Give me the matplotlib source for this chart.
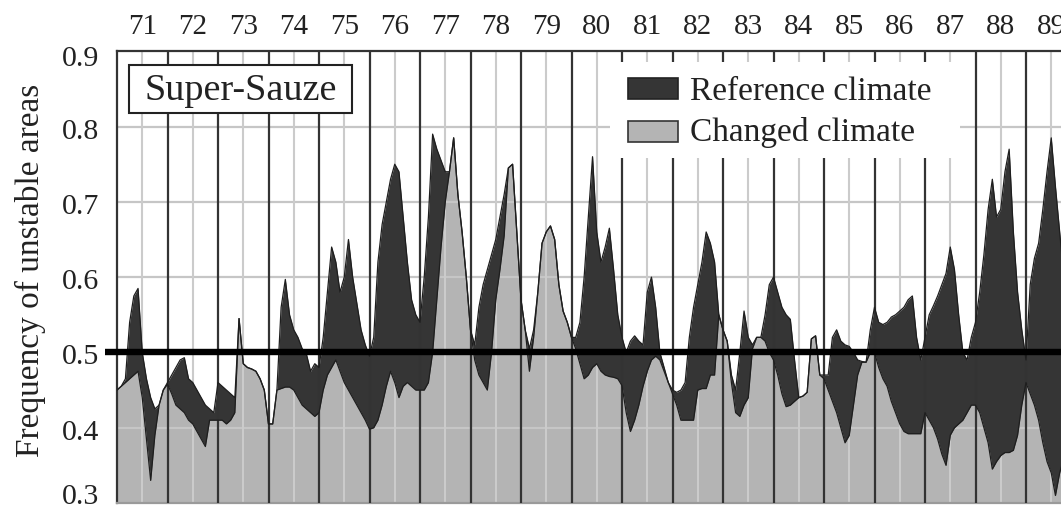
import numpy as np
import matplotlib
matplotlib.use("Agg")
import matplotlib.pyplot as plt
from matplotlib.patches import Rectangle
from matplotlib.transforms import ScaledTranslation

plt.rcParams['font.family'] = ['Liberation Serif', 'DejaVu Serif']

# ---------------- data ----------------
years = list(range(71, 90))
y_ticks = [0.3, 0.4, 0.5, 0.6, 0.7, 0.8, 0.9]
threshold = 0.5
title_text = "Super-Sauze"
legend_labels = ["Reference climate", "Changed climate"]
y_label = "Frequency of unstable areas"

# monthly values, starting January 1971
reference_climate = [
    0.45, 0.455, 0.465, 0.54, 0.575, 0.585, 0.50, 0.465, 0.44, 0.425, 0.43, 0.45,      # 71
    0.46, 0.47, 0.48, 0.49, 0.493, 0.465, 0.46, 0.45, 0.44, 0.43, 0.425, 0.42,         # 72
    0.46, 0.455, 0.45, 0.445, 0.44, 0.545, 0.485, 0.48, 0.478, 0.475, 0.465, 0.45,     # 73
    0.405, 0.405, 0.45, 0.56, 0.597, 0.55, 0.53, 0.52, 0.505, 0.498, 0.475, 0.485,     # 74
    0.48, 0.52, 0.58, 0.64, 0.62, 0.58, 0.60, 0.65, 0.60, 0.565, 0.53, 0.51,           # 75
    0.495, 0.52, 0.62, 0.67, 0.70, 0.73, 0.75, 0.74, 0.68, 0.62, 0.57, 0.55,           # 76
    0.54, 0.60, 0.68, 0.79, 0.77, 0.755, 0.74, 0.74, 0.785, 0.71, 0.66, 0.60,          # 77
    0.53, 0.51, 0.56, 0.59, 0.61, 0.63, 0.65, 0.68, 0.71, 0.745, 0.75, 0.66,           # 78
    0.57, 0.53, 0.505, 0.53, 0.58, 0.645, 0.66, 0.668, 0.65, 0.59, 0.555, 0.54,        # 79
    0.52, 0.52, 0.54, 0.60, 0.68, 0.76, 0.66, 0.62, 0.64, 0.665, 0.61, 0.55,           # 80
    0.52, 0.50, 0.515, 0.522, 0.515, 0.51, 0.58, 0.60, 0.56, 0.50, 0.48, 0.46,         # 81
    0.45, 0.447, 0.45, 0.46, 0.52, 0.56, 0.59, 0.62, 0.66, 0.645, 0.62, 0.55,          # 82
    0.53, 0.515, 0.47, 0.45, 0.50, 0.555, 0.52, 0.51, 0.52, 0.52, 0.55, 0.59,          # 83
    0.60, 0.58, 0.56, 0.55, 0.544, 0.49, 0.44, 0.442, 0.447, 0.518, 0.522, 0.47,       # 84
    0.47, 0.47, 0.52, 0.53, 0.515, 0.51, 0.508, 0.50, 0.49, 0.488, 0.487, 0.53,        # 85
    0.56, 0.54, 0.537, 0.54, 0.547, 0.55, 0.555, 0.56, 0.57, 0.575, 0.52, 0.49,        # 86
    0.52, 0.55, 0.562, 0.575, 0.59, 0.605, 0.64, 0.61, 0.55, 0.50, 0.49, 0.52,         # 87
    0.54, 0.58, 0.63, 0.69, 0.73, 0.68, 0.69, 0.74, 0.77, 0.66, 0.58, 0.53,            # 88
    0.49, 0.59, 0.625, 0.645, 0.69, 0.74, 0.785, 0.72, 0.66, 0.60,                     # 89
]

changed_climate = [
    0.45, 0.455, 0.46, 0.465, 0.47, 0.475, 0.44, 0.385, 0.33, 0.39, 0.43, 0.45,        # 71
    0.458, 0.445, 0.43, 0.425, 0.42, 0.41, 0.405, 0.395, 0.385, 0.375, 0.41, 0.41,     # 72
    0.41, 0.41, 0.405, 0.41, 0.42, 0.545, 0.485, 0.48, 0.478, 0.475, 0.465, 0.45,      # 73
    0.405, 0.405, 0.45, 0.452, 0.454, 0.454, 0.45, 0.44, 0.43, 0.425, 0.42, 0.415,     # 74
    0.42, 0.45, 0.47, 0.48, 0.49, 0.475, 0.46, 0.45, 0.44, 0.43, 0.42, 0.41,           # 75
    0.398, 0.40, 0.41, 0.43, 0.455, 0.475, 0.46, 0.44, 0.455, 0.46, 0.455, 0.45,       # 76
    0.45, 0.45, 0.46, 0.50, 0.57, 0.64, 0.70, 0.74, 0.785, 0.71, 0.66, 0.60,           # 77
    0.53, 0.49, 0.47, 0.46, 0.45, 0.50, 0.57, 0.61, 0.655, 0.745, 0.75, 0.66,          # 78
    0.57, 0.53, 0.475, 0.52, 0.58, 0.645, 0.66, 0.668, 0.65, 0.59, 0.555, 0.54,        # 79
    0.52, 0.505, 0.485, 0.465, 0.47, 0.48, 0.485, 0.475, 0.47, 0.468, 0.467, 0.465,    # 80
    0.456, 0.42, 0.395, 0.41, 0.43, 0.455, 0.475, 0.49, 0.495, 0.49, 0.475, 0.46,      # 81
    0.445, 0.43, 0.41, 0.41, 0.41, 0.41, 0.45, 0.452, 0.452, 0.47, 0.47, 0.55,         # 82
    0.53, 0.515, 0.46, 0.42, 0.415, 0.43, 0.44, 0.505, 0.52, 0.52, 0.515, 0.50,        # 83
    0.49, 0.47, 0.445, 0.428, 0.43, 0.435, 0.44, 0.442, 0.447, 0.518, 0.522, 0.47,     # 84
    0.465, 0.45, 0.435, 0.42, 0.40, 0.38, 0.39, 0.43, 0.47, 0.487, 0.487, 0.50,        # 85
    0.50, 0.48, 0.465, 0.455, 0.435, 0.42, 0.405, 0.395, 0.392, 0.392, 0.392, 0.392,   # 86
    0.42, 0.41, 0.40, 0.385, 0.365, 0.35, 0.39, 0.40, 0.405, 0.41, 0.42, 0.43,         # 87
    0.43, 0.42, 0.40, 0.38, 0.345, 0.355, 0.363, 0.367, 0.367, 0.37, 0.39, 0.43,       # 88
    0.46, 0.445, 0.43, 0.41, 0.38, 0.355, 0.34, 0.31, 0.34, 0.36,                      # 89
]

# ---------------- figure ----------------
W, H = 1061, 508
fig = plt.figure(figsize=(W / 100, H / 100), dpi=100)
ax = fig.add_axes([117 / W, 5 / H, (1076.5 - 117) / W, (503 - 51.3) / H])

ref = np.array(reference_climate)
chg = np.array(changed_climate)
t = years[0] + np.arange(len(ref)) / 12.0

dark = '#353535'
grey = '#b4b4b4'
ink = '#1e1e1e'

ax.set_xlim(years[0], years[-1] + 1)
ax.set_ylim(y_ticks[0], y_ticks[-1])

ax.fill_between(t, y_ticks[0], chg, color=grey, lw=0, zorder=1)
for yv in y_ticks[1:-1]:
    if yv != threshold:
        ax.axhline(yv, color='#c6c6c6', lw=1.6, zorder=2)
for yr in years:
    ax.axvline(yr + 0.5, color='#cbcbcb', lw=1.5, zorder=2)
ax.fill_between(t, chg, ref, color=dark, lw=0, zorder=3)
for yr in years[1:]:
    ax.axvline(yr, color='#333333', lw=1.6, zorder=4)
ax.plot(t, ref, color=ink, lw=0.9, zorder=5)
ax.plot(t, chg, color=ink, lw=0.9, zorder=5)
ax.plot([years[0] - 0.24, years[-1] + 1], [threshold, threshold], color='black',
        lw=4.6, solid_capstyle='butt', clip_on=False, zorder=6)

for side in ['left', 'top']:
    ax.spines[side].set_color('#333333')
    ax.spines[side].set_linewidth(1.6)
ax.spines['bottom'].set_color('#9a9a9a')
ax.spines['bottom'].set_linewidth(1.6)
ax.spines['right'].set_visible(False)

ax.set_yticks(y_ticks)
ax.set_yticklabels([f"{v:.1f}" for v in y_ticks])
ax.tick_params(axis='y', length=0, pad=13, labelsize=21.5, labelcolor='#222222')
# small vertical nudges of the y labels as in the original layout (pixels)
nudges = {0.3: 9, 0.9: -5}
for v, lab in zip(y_ticks, ax.get_yticklabels()):
    dy = nudges.get(v, -2)
    lab.set_transform(lab.get_transform() + ScaledTranslation(0, dy / 100, fig.dpi_scale_trans))

ax.xaxis.tick_top()
ax.set_xticks([yr + 0.5 for yr in years])
ax.set_xticklabels([str(yr) for yr in years])
ax.tick_params(axis='x', length=0, pad=8, labelsize=21, labelcolor='#222222')

fig.text(30 / W, 1 - 270 / H, y_label, rotation=90, ha='center', va='center',
         fontsize=24, color='#222222')

# title box
fig.add_artist(Rectangle((129 / W, 1 - 113 / H), 223 / W, 48 / H, transform=fig.transFigure,
                         fc='white', ec='#222222', lw=1.5, zorder=10))
fig.text(240.5 / W, 1 - 99.5 / H, title_text, ha='center', va='baseline', fontsize=27.5,
         color='#222222', zorder=11)

# legend
fig.add_artist(Rectangle((610 / W, 1 - 158 / H), 350 / W, 96 / H, transform=fig.transFigure,
                         fc='white', ec='none', zorder=10))
fig.add_artist(Rectangle((628 / W, 1 - 99 / H), 50 / W, 21 / H, transform=fig.transFigure,
                         fc=dark, ec='#222222', lw=1.2, zorder=11))
fig.add_artist(Rectangle((628 / W, 1 - 142 / H), 50 / W, 21 / H, transform=fig.transFigure,
                         fc=grey, ec='#333333', lw=1.2, zorder=11))
fig.text(690 / W, 1 - 99.5 / H, legend_labels[0], ha='left', va='baseline', fontsize=24,
         color='#222222', zorder=12)
fig.text(690 / W, 1 - 141.5 / H, legend_labels[1], ha='left', va='baseline', fontsize=24,
         color='#222222', zorder=12)

fig.savefig('out.png', dpi=100)
